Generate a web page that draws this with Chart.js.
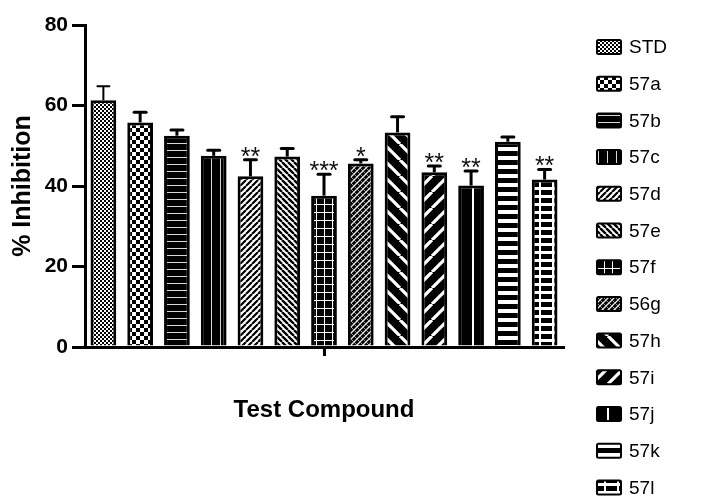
<!DOCTYPE html>
<html>
<head>
<meta charset="utf-8">
<script src="https://cdn.jsdelivr.net/npm/chart.js@4/dist/chart.umd.min.js"></script>
<style>
html,body{margin:0;padding:0;background:#fff;}
#c{display:block;}
</style>
</head>
<body>
<canvas id="c" width="703" height="502"></canvas>
<script>
const categories = ["STD","57a","57b","57c","57d","57e","57f","56g","57h","57i","57j","57k","57l"];
const values = [61.3, 55.8, 52.5, 47.5, 42.4, 47.3, 37.6, 45.6, 53.3, 43.4, 40.1, 51.0, 41.6];
const errors = [3.5, 2.5, 1.4, 1.4, 4.1, 2.0, 5.3, 0.9, 3.9, 1.6, 3.6, 1.2, 2.5];
const stars = ["", "", "", "", "**", "", "***", "*", "", "**", "**", "", "**"];
const yTicks = [0, 20, 40, 60, 80];

const FONT = "'Liberation Sans', Arial, sans-serif";
const canvas = document.getElementById('c');
const mainCtx = canvas.getContext('2d');

function tile(w, h, bg, draw) {
  const t = document.createElement('canvas');
  t.width = w; t.height = h;
  const g = t.getContext('2d');
  g.fillStyle = bg; g.fillRect(0, 0, w, h);
  draw(g, w, h);
  return mainCtx.createPattern(t, 'repeat');
}
function diag(g, s, dir, color, lw) {
  g.strokeStyle = color; g.lineWidth = lw; g.lineCap = 'butt';
  g.beginPath();
  for (let k = -1; k <= 1; k++) {
    if (dir === '/') { g.moveTo(k * s, s); g.lineTo(k * s + s, 0); }
    else { g.moveTo(k * s, 0); g.lineTo(k * s + s, s); }
  }
  g.stroke();
}
const patterns = [
  tile(4, 4, '#fff', (g) => { g.fillStyle = '#000'; g.fillRect(0, 0, 2, 2); g.fillRect(2, 2, 2, 2); }),
  tile(8, 8, '#fff', (g) => { g.fillStyle = '#000'; g.fillRect(0, 0, 4, 4); g.fillRect(4, 4, 4, 4); }),
  tile(7, 7, '#000', (g) => { g.fillStyle = '#d8d8d8'; g.fillRect(0, 3, 7, 1); }),
  tile(9, 9, '#000', (g) => { g.fillStyle = '#d8d8d8'; g.fillRect(4, 0, 1, 9); }),
  tile(6, 6, '#fff', (g, w) => diag(g, w, '/', '#000', 2.2)),
  tile(6, 6, '#fff', (g, w) => diag(g, w, '\\', '#000', 2.4)),
  tile(8, 8, '#000', (g) => { g.fillStyle = '#fff'; g.fillRect(0, 4, 8, 1); g.fillRect(4, 0, 1, 8); }),
  tile(6, 6, '#000', (g, w) => { diag(g, w, '/', '#e8e8e8', 1.3); diag(g, w, '\\', '#bbb', 0.8); }),
  tile(16, 16, '#000', (g, w) => diag(g, w, '\\', '#fff', 3.2)),
  tile(16, 16, '#000', (g, w) => diag(g, w, '/', '#fff', 3.2)),
  tile(15, 15, '#000', (g) => { g.fillStyle = '#fff'; g.fillRect(7, 0, 2, 15); }),
  tile(9, 9, '#000', (g) => { g.fillStyle = '#fff'; g.fillRect(0, 3, 9, 4); }),
  tile(13, 8, '#000', (g) => { g.fillStyle = '#fff'; g.fillRect(0, 3, 13, 3); g.fillRect(6, 0, 2, 8); })
];

const datasets = categories.map((name, i) => ({
  label: name,
  data: categories.map((_, j) => (j === i ? values[i] : null)),
  backgroundColor: patterns[i],
  borderColor: '#000',
  borderWidth: 3,
  borderSkipped: 'bottom',
  grouped: false,
  barPercentage: 0.7,
  categoryPercentage: 1.0
}));

const errorBars = {
  id: 'errorBars',
  afterDatasetsDraw(chart) {
    const ctx = chart.ctx;
    const ys = chart.scales.y;
    ctx.save();
    values.forEach((v, i) => {
      const el = chart.getDatasetMeta(i).data[i];
      if (!el) return;
      const x = el.x;
      const yTop = ys.getPixelForValue(v + errors[i]);
      ctx.strokeStyle = '#000';
      ctx.lineWidth = i === 0 ? 2 : 3;
      ctx.lineCap = 'butt';
      ctx.beginPath(); ctx.moveTo(x, el.y); ctx.lineTo(x, yTop); ctx.stroke();
      ctx.lineCap = 'round';
      ctx.beginPath(); ctx.moveTo(x - 6, yTop); ctx.lineTo(x + 6, yTop); ctx.stroke();
      if (stars[i]) {
        ctx.fillStyle = '#111';
        ctx.font = '25px ' + FONT;
        ctx.textAlign = 'center';
        ctx.textBaseline = 'alphabetic';
        ctx.fillText(stars[i], x, yTop + 5);
      }
    });
    ctx.restore();
  }
};

const customLegend = {
  id: 'customLegend',
  afterDraw(chart) {
    const ctx = chart.ctx;
    ctx.save();
    chart.data.datasets.forEach((ds, i) => {
      const cy = 47 + i * 36.7;
      ctx.fillStyle = ds.backgroundColor;
      ctx.beginPath();
      ctx.roundRect(597, cy - 7, 24, 14, 1.5);
      ctx.fill();
      ctx.lineWidth = 2;
      ctx.strokeStyle = '#000';
      ctx.stroke();
      ctx.fillStyle = '#000';
      ctx.font = '19px ' + FONT;
      ctx.textAlign = 'left';
      ctx.textBaseline = 'middle';
      ctx.fillText(ds.label, 629, cy + 1);
    });
    ctx.restore();
  }
};

new Chart(canvas, {
  type: 'bar',
  data: { labels: categories, datasets },
  options: {
    responsive: false,
    animation: false,
    devicePixelRatio: 1,
    layout: { padding: { top: 25, right: 140, left: 0, bottom: 0 } },
    plugins: { legend: { display: false }, tooltip: { enabled: false } },
    scales: {
      x: {
        type: 'category',
        offset: true,
        ticks: { display: false },
        grid: {
          offset: false,
          drawOnChartArea: false,
          drawTicks: true,
          tickLength: 9,
          lineWidth: 3,
          color: (c) => (c.index === 6 ? '#000' : 'rgba(0,0,0,0)')
        },
        border: { display: true, color: '#000', width: 3 },
        title: {
          display: true,
          text: 'Test Compound',
          color: '#000',
          font: { family: FONT, size: 24, weight: 'bold' },
          padding: { top: 0, bottom: 77 }
        },
        afterFit: (s) => { s.height = 155; }
      },
      y: {
        min: 0,
        max: 80,
        afterBuildTicks: (s) => { s.ticks = yTicks.map(v => ({ value: v })); },
        ticks: {
          color: '#000',
          padding: 4,
          font: { family: FONT, size: 21, weight: 'bold' }
        },
        grid: {
          drawOnChartArea: false,
          drawTicks: true,
          tickLength: 13,
          lineWidth: 3,
          color: '#000'
        },
        border: { display: true, color: '#000', width: 3 },
        title: {
          display: true,
          text: '% Inhibition',
          color: '#000',
          font: { family: FONT, size: 25, weight: 'bold' },
          padding: { top: 8, bottom: 0 }
        },
        afterFit: (s) => { s.width = 85; }
      }
    }
  },
  plugins: [errorBars, customLegend]
});
</script>
</body>
</html>
